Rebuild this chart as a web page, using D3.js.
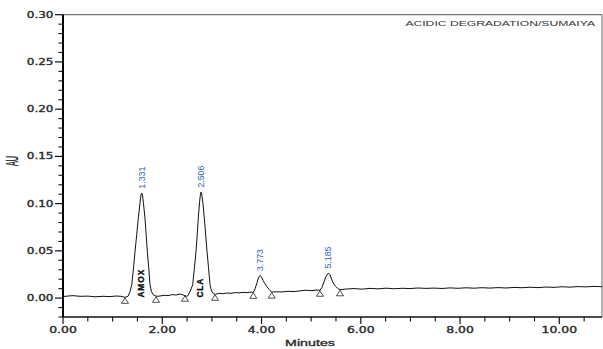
<!DOCTYPE html>
<html>
<head>
<meta charset="utf-8">
<script src="https://cdn.jsdelivr.net/npm/d3@7"></script>
<style>
  body { margin: 0; background: #fff; }
  svg { display: block; }
</style>
</head>
<body>
<svg></svg>
<script>
// chromatogram trace: [minutes, AU]
const trace = [
  [0.000,0.0016],[0.101,0.0022],[0.201,0.0026],[0.343,0.0019],[0.504,0.0021],[0.645,0.0014],
  [0.806,0.0019],[0.947,0.0016],[1.068,0.0022],[1.169,0.0019],[1.249,0.0008],
  [1.310,0.0019],[1.350,0.0067],[1.385,0.0141],[1.421,0.0321],[1.451,0.0493],[1.485,0.0670],
  [1.518,0.0850],[1.552,0.1008],[1.572,0.1093],[1.586,0.1111],[1.602,0.1093],[1.622,0.0998],
  [1.652,0.0847],[1.676,0.0670],[1.699,0.0493],[1.727,0.0321],[1.753,0.0141],[1.783,0.0067],
  [1.819,0.0035],[1.854,0.0024],[1.894,0.0019],
  [1.955,0.0022],[2.035,0.0030],[2.116,0.0026],[2.196,0.0037],[2.277,0.0033],[2.357,0.0043],
  [2.438,0.0030],[2.488,0.0019],
  [2.513,0.0024],[2.559,0.0067],[2.613,0.0141],[2.648,0.0321],[2.680,0.0493],[2.704,0.0670],
  [2.726,0.0847],[2.752,0.1019],[2.768,0.1093],[2.781,0.1122],[2.797,0.1093],[2.821,0.0998],
  [2.847,0.0847],[2.875,0.0670],[2.902,0.0493],[2.932,0.0321],[2.962,0.0141],[2.992,0.0077],
  [3.029,0.0046],[3.073,0.0040],
  [3.143,0.0051],[3.224,0.0046],[3.304,0.0054],[3.385,0.0051],[3.466,0.0058],[3.546,0.0056],
  [3.627,0.0061],[3.707,0.0058],[3.788,0.0063],[3.834,0.0061],
  [3.869,0.0098],[3.909,0.0162],[3.939,0.0215],[3.969,0.0239],[4.000,0.0225],[4.030,0.0188],
  [4.070,0.0151],[4.110,0.0120],[4.151,0.0093],[4.205,0.0063],
  [4.292,0.0067],[4.413,0.0065],[4.534,0.0072],[4.655,0.0069],[4.775,0.0077],[4.896,0.0083],
  [5.017,0.0079],[5.118,0.0086],[5.178,0.0083],
  [5.219,0.0114],[5.259,0.0172],[5.299,0.0231],[5.346,0.0265],[5.380,0.0247],[5.410,0.0204],
  [5.446,0.0159],[5.491,0.0125],[5.531,0.0104],[5.581,0.0088],
  [5.702,0.0096],[5.863,0.0101],[6.024,0.0095],[6.186,0.0103],[6.347,0.0098],[6.508,0.0105],
  [6.669,0.0099],[6.830,0.0104],[6.992,0.0101],[7.153,0.0107],[7.314,0.0103],[7.475,0.0106],
  [7.636,0.0102],[7.798,0.0108],[7.959,0.0104],[8.120,0.0109],[8.281,0.0105],[8.442,0.0110],
  [8.604,0.0106],[8.765,0.0111],[8.926,0.0107],[9.087,0.0113],[9.248,0.0110],[9.410,0.0115],
  [9.571,0.0111],[9.732,0.0117],[9.893,0.0114],[10.054,0.0120],[10.216,0.0116],[10.377,0.0122],
  [10.538,0.0119],[10.699,0.0124],[10.860,0.0121]
];

// apex of each integrated peak and the retention time printed above it
const peak_time = [1.586, 2.781, 3.969, 5.346];
const peak_au = [0.1111, 0.1122, 0.0239, 0.0265];
const peak_labels = ["1.331", "2.506", "3.773", "5.185"];

// compound names written inside the two big peaks
const compound_names = ["AMOX", "CLA"];
const compound_time = [1.572, 2.761];

// peak start / end markers (little triangles on the baseline)
const marker_time = [1.249, 1.874, 2.458, 3.063, 3.834, 4.205, 5.178, 5.581];
const marker_au = [0.0008, 0.0019, 0.0030, 0.0040, 0.0061, 0.0063, 0.0083, 0.0088];

// axes
const x_major = [0, 2, 4, 6, 8, 10];
const x_major_labels = ["0.00", "2.00", "4.00", "6.00", "8.00", "10.00"];
const x_minor = [0.5, 1, 1.5, 2.5, 3, 3.5, 4.5, 5, 5.5, 6.5, 7, 7.5, 8.5, 9, 9.5, 10.5];
const y_major = [0, 0.05, 0.10, 0.15, 0.20, 0.25, 0.30];
const y_major_labels = ["0.00", "0.05", "0.10", "0.15", "0.20", "0.25", "0.30"];
const y_minor = [-0.02, -0.01, 0.01, 0.02, 0.03, 0.04, 0.06, 0.07, 0.08, 0.09, 0.11, 0.12, 0.13,
                 0.14, 0.16, 0.17, 0.18, 0.19, 0.21, 0.22, 0.23, 0.24, 0.26, 0.27, 0.28, 0.29];

const chart_title = "ACIDIC DEGRADATION/SUMAIYA";
const x_title = "Minutes";
const y_title = "AU";

const width = 603, height = 349;
const plot = { left: 63, right: 602, top: 14.7, bottom: 317 };

const svg = d3.select("svg")
              .attr("width", width)
              .attr("height", height);

svg.append("rect")
   .attr("width", width)
   .attr("height", height)
   .attr("fill", "#fff");

const x = d3.scaleLinear().domain([0, 10.86]).range([plot.left, plot.right]);
const y = d3.scaleLinear().domain([-0.02, 0.30]).range([plot.bottom, plot.top]);

// text in the picture is stretched sideways, so scale it after rotating
function d3_append_stretched_text(parent, tx, ty, sx, sy, rot, text, opts) {
  return parent.append("text")
     .attr("transform", "translate(" + tx + "," + ty + ") scale(" + sx + "," + sy + ") rotate(" + rot + ")")
     .attr("text-anchor", opts.anchor || "start")
     .attr("font-family", opts.family || "'Liberation Sans', Arial, sans-serif")
     .attr("font-size", opts.size)
     .attr("font-weight", opts.weight || "normal")
     .attr("letter-spacing", opts.spacing || 0)
     .attr("fill", opts.fill || "#222")
     .attr("stroke", opts.stroke || "none")
     .attr("stroke-width", opts.stroke ? 0.35 : 0)
     .text(text);
}

// frame: top and right in grey, y axis heavy black
svg.append("line")
   .attr("x1", plot.left).attr("x2", plot.right)
   .attr("y1", plot.top).attr("y2", plot.top)
   .attr("stroke", "#555").attr("stroke-width", 1);
svg.append("line")
   .attr("x1", plot.right).attr("x2", plot.right)
   .attr("y1", plot.top).attr("y2", plot.bottom)
   .attr("stroke", "#666").attr("stroke-width", 1);

// x ticks
const x_axis_g = svg.append("g");
x_axis_g.selectAll(".xmaj")
   .data(x_major)
   .enter().append("line")
   .attr("x1", d => x(d)).attr("x2", d => x(d))
   .attr("y1", plot.bottom).attr("y2", plot.bottom + 7)
   .attr("stroke", "#111").attr("stroke-width", 1.2);
x_axis_g.selectAll(".xmin")
   .data(x_minor)
   .enter().append("line")
   .attr("x1", d => x(d)).attr("x2", d => x(d))
   .attr("y1", plot.bottom).attr("y2", plot.bottom + 4.5)
   .attr("stroke", "#111").attr("stroke-width", 1.1);
x_major.forEach(function(d, i) {
  d3_append_stretched_text(x_axis_g, x(d), plot.bottom + 16, 1.55, 1, 0, x_major_labels[i],
    { anchor: "middle", family: "'DejaVu Sans', sans-serif", size: 8, stroke: "#333" });
});

// y ticks
const y_axis_g = svg.append("g");
y_axis_g.selectAll(".ymaj")
   .data(y_major)
   .enter().append("line")
   .attr("x1", plot.left - 8).attr("x2", plot.left)
   .attr("y1", d => y(d)).attr("y2", d => y(d))
   .attr("stroke", "#111").attr("stroke-width", 1.2);
y_axis_g.selectAll(".ymin")
   .data(y_minor)
   .enter().append("line")
   .attr("x1", plot.left - 4.5).attr("x2", plot.left)
   .attr("y1", d => y(d)).attr("y2", d => y(d))
   .attr("stroke", "#111").attr("stroke-width", 1.1);
y_major.forEach(function(d, i) {
  d3_append_stretched_text(y_axis_g, plot.left - 9.5, y(d) + 2.9, 1.5, 1, 0, y_major_labels[i],
    { anchor: "end", family: "'DejaVu Sans', sans-serif", size: 8, stroke: "#333" });
});

// axis lines
svg.append("line")
   .attr("x1", plot.left).attr("x2", plot.right)
   .attr("y1", plot.bottom).attr("y2", plot.bottom)
   .attr("stroke", "#111").attr("stroke-width", 1.5);
svg.append("line")
   .attr("x1", plot.left).attr("x2", plot.left)
   .attr("y1", plot.top).attr("y2", plot.bottom)
   .attr("stroke", "#000").attr("stroke-width", 2);

// titles
d3_append_stretched_text(svg, 595, 26, 1.62, 1, 0, chart_title,
  { anchor: "end", size: 7.5, fill: "#333" });
d3_append_stretched_text(svg, 310, 346, 1.5, 1, 0, x_title,
  { anchor: "middle", size: 9.5, fill: "#222", stroke: "#333" });
d3_append_stretched_text(svg, 17.5, 161, 1.3, 0.6, -90, y_title,
  { anchor: "middle", size: 12, fill: "#222", stroke: "#333" });

// trace
const line = d3.line()
               .x(d => x(d[0]))
               .y(d => y(d[1]));

svg.append("path")
   .datum(trace)
   .attr("d", line)
   .attr("fill", "none")
   .attr("stroke", "#111")
   .attr("stroke-width", 1)
   .attr("stroke-linejoin", "round");

// peak start / end triangles
svg.selectAll(".marker")
   .data(marker_time)
   .enter().append("path")
   .attr("d", function(d, i) {
     let cx = x(d), cy = y(marker_au[i]) + 0.5;
     return "M" + cx + "," + cy + "L" + (cx + 3.5) + "," + (cy + 5.5) + "L" + (cx - 3.5) + "," + (cy + 5.5) + "Z";
   })
   .attr("fill", "#fff")
   .attr("stroke", "#222")
   .attr("stroke-width", 0.8);

// retention time labels
peak_time.forEach(function(d, i) {
  d3_append_stretched_text(svg, x(d) + 2.8, y(peak_au[i]) - 4.5, 1.05, 1, -90, peak_labels[i],
    { size: 8.8, fill: "#2f62b8" });
});

// compound names
compound_time.forEach(function(d, i) {
  d3_append_stretched_text(svg, x(d) + 3.2, y(0) - 0.5, 1.1, 1, -90, compound_names[i],
    { size: 8.4, weight: "bold", spacing: 0.9, fill: "#111", stroke: "#111" });
});
</script>
</body>
</html>
